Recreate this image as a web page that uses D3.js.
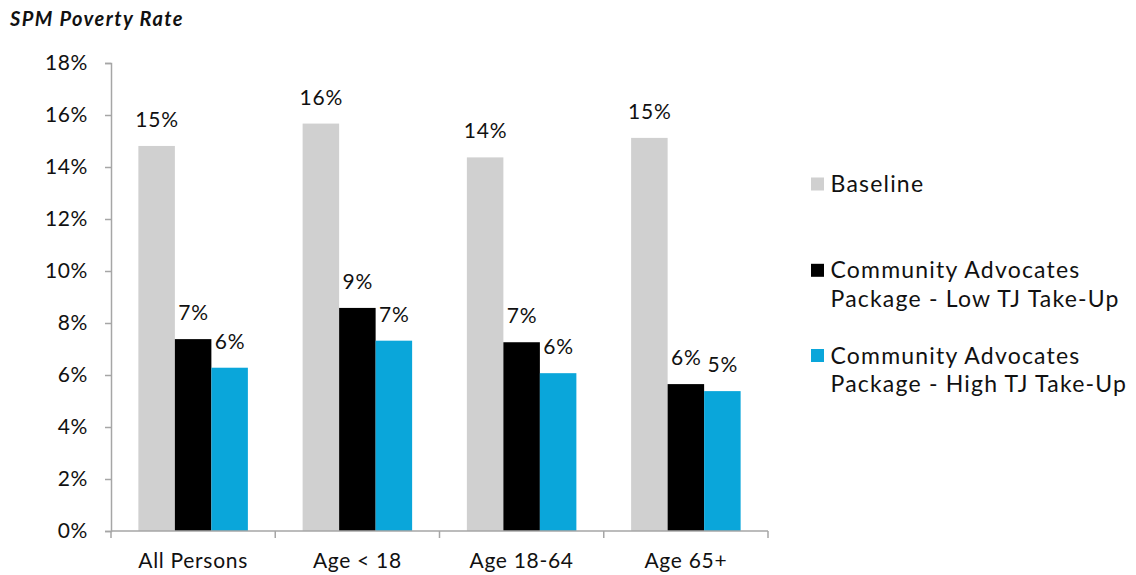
<!DOCTYPE html>
<html>
<head>
<meta charset="utf-8">
<script src="https://cdn.jsdelivr.net/npm/d3@7"></script>
<style>
  html, body { margin: 0; padding: 0; background: #fff; }
  svg { display: block; font-family: Lato, "Open Sans", sans-serif; }
</style>
</head>
<body>
<svg id="chart" width="1136" height="575"></svg>
<script>
const categories = ["All Persons", "Age < 18", "Age 18-64", "Age 65+"];
const seriesNames = [
  "Baseline",
  "Community Advocates Package - Low TJ Take-Up",
  "Community Advocates Package - High TJ Take-Up"
];
const legendLines = [
  ["Baseline"],
  ["Community Advocates", "Package - Low TJ Take-Up"],
  ["Community Advocates", "Package - High TJ Take-Up"]
];
const baseline = [14.81, 15.67, 14.37, 15.12];
const lowTakeUp = [7.38, 8.58, 7.26, 5.65];
const highTakeUp = [6.28, 7.32, 6.07, 5.38];
const seriesColors = ["#d0d0d0", "#000000", "#0aa6da"];
const yTicks = [0, 2, 4, 6, 8, 10, 12, 14, 16, 18];
const title = "SPM Poverty Rate";

const seriesValues = [baseline, lowTakeUp, highTakeUp];
const svg = d3.select("#chart");
const textColor = "#111";
const axisColor = "#a6a6a6";

const x0 = d3.scaleBand().domain(categories).range([111, 768]).paddingInner(0).paddingOuter(0);
const x1 = d3.scaleBand().domain(seriesNames).range([0, x0.bandwidth()]).paddingInner(0).paddingOuter(0.75);
const y = d3.scaleLinear().domain([0, 18]).range([531, 63]);

// title
svg.append("text").attr("x", 10).attr("y", 26)
  .attr("font-size", 20).attr("font-weight", "bold").attr("font-style", "italic")
  .attr("letter-spacing", 1.4)
  .attr("fill", textColor).text(title);

// bars
categories.forEach((c, ci) => {
  seriesNames.forEach((s, si) => {
    const v = seriesValues[si][ci];
    const bx = x0(c) + x1(s);
    svg.append("rect")
      .attr("x", bx).attr("y", y(v))
      .attr("width", x1.bandwidth()).attr("height", y(0) - y(v))
      .attr("fill", seriesColors[si]);
    svg.append("text")
      .attr("x", bx + x1.bandwidth() / 2 + 0.4).attr("y", y(v) - 19)
      .attr("text-anchor", "middle").attr("font-size", 21).attr("letter-spacing", 0.8)
      .attr("fill", textColor)
      .text(d3.format(".0f")(v) + "%");
  });
});

// y axis
const yAxis = d3.axisLeft(y).tickValues(yTicks).tickSize(6).tickPadding(17)
  .tickFormat(d => d + "%");
const gy = svg.append("g").attr("transform", "translate(111,0)").call(yAxis);
gy.select(".domain").attr("stroke", axisColor).attr("stroke-width", 1.5);
gy.selectAll(".tick line").attr("stroke", axisColor).attr("stroke-width", 1.5);
gy.selectAll(".tick text").attr("font-size", 21).attr("fill", textColor)
  .attr("letter-spacing", 0.6)
  .attr("font-family", "Lato, sans-serif");

// x axis
const gx = svg.append("g").attr("transform", "translate(0,531)");
gx.append("line").attr("x1", 111).attr("x2", 768).attr("y1", 0).attr("y2", 0)
  .attr("stroke", axisColor).attr("stroke-width", 1.5);
const boundaries = categories.map(c => x0(c)).concat([x0.range()[1]]);
gx.selectAll(".xt").data(boundaries).enter().append("line")
  .attr("x1", d => d).attr("x2", d => d).attr("y1", 0).attr("y2", 7)
  .attr("stroke", axisColor).attr("stroke-width", 1.5);
gx.selectAll(".xl").data(categories).enter().append("text")
  .attr("x", d => x0(d) + x0.bandwidth() / 2).attr("y", 37)
  .attr("text-anchor", "middle").attr("font-size", 21).attr("letter-spacing", 0.7)
  .attr("fill", textColor)
  .text(d => d);

// legend
const legendTop = [192, 278.3, 363.5];
legendLines.forEach((lines, i) => {
  svg.append("rect").attr("x", 811).attr("y", legendTop[i] - 14.5)
    .attr("width", 13).attr("height", 13).attr("fill", seriesColors[i]);
  lines.forEach((ln, j) => {
    svg.append("text").attr("x", 830.5).attr("y", legendTop[i] + j * 28.6)
      .attr("font-size", 23).attr("letter-spacing", 1.2).attr("fill", textColor).text(ln);
  });
});
</script>
</body>
</html>
